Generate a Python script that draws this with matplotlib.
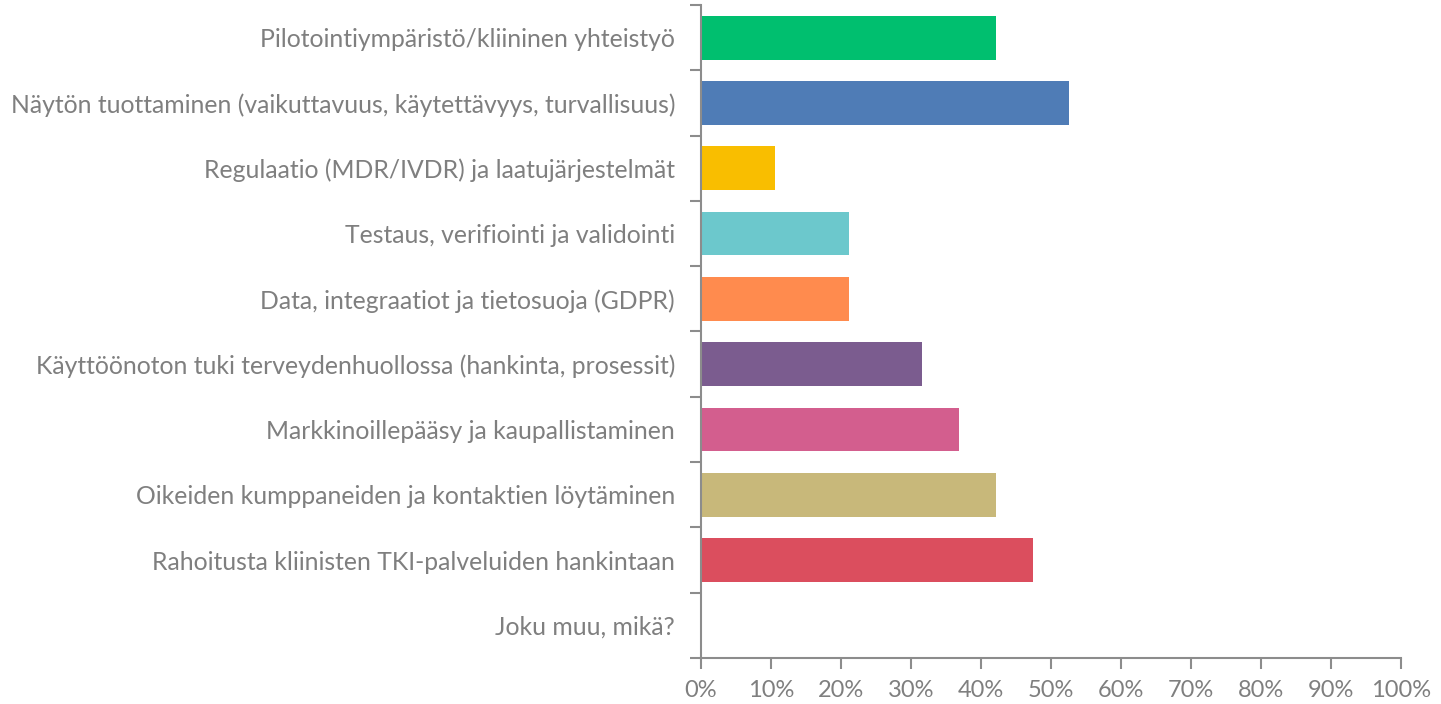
import matplotlib
matplotlib.use("Agg")
import matplotlib.pyplot as plt
import numpy as np
from matplotlib.ticker import FixedLocator, PercentFormatter

categories = [
    "Pilotointiympäristö/kliininen yhteistyö",
    "Näytön tuottaminen (vaikuttavuus, käytettävyys, turvallisuus)",
    "Regulaatio (MDR/IVDR) ja laatujärjestelmät",
    "Testaus, verifiointi ja validointi",
    "Data, integraatiot ja tietosuoja (GDPR)",
    "Käyttöönoton tuki terveydenhuollossa (hankinta, prosessit)",
    "Markkinoillepääsy ja kaupallistaminen",
    "Oikeiden kumppaneiden ja kontaktien löytäminen",
    "Rahoitusta kliinisten TKI-palveluiden hankintaan",
    "Joku muu, mikä?",
]
values = [42.1, 52.6, 10.5, 21.1, 21.1, 31.6, 36.8, 42.1, 47.4, 0.0]
colors = ["#00BF6F", "#4F7CB6", "#F9BE00", "#6CC8CC", "#FF8B4E",
          "#7B5C8F", "#D35E8E", "#C8B87A", "#DB4E5E", "#A0A0A0"]
xticks = [0, 10, 20, 30, 40, 50, 60, 70, 80, 90, 100]

plt.rcParams['font.family'] = ['Lato', 'DejaVu Sans']
grey = "#7F7F7F"
axis_grey = "#8C8C8C"

fig = plt.figure(figsize=(14.41, 7.04), dpi=100)
ax = fig.add_axes([701/1441, 1-658/704, 700/1441, 653/704])

n = len(categories)
y = np.arange(n)
ax.barh(y, values, height=0.67, color=colors)
ax.set_ylim(n-0.5, -0.5)
ax.set_xlim(0, 100)

ax.set_yticks(y)
ax.set_yticklabels(categories, fontsize=17.8, color=grey)
ax.yaxis.set_minor_locator(FixedLocator(np.arange(-0.5, n, 1.0)))
ax.tick_params(axis='y', which='major', length=0, pad=18.7)
ax.tick_params(axis='y', which='minor', length=8, width=1.5, color=axis_grey, direction='out')

ax.set_xticks(xticks)
ax.xaxis.set_major_formatter(PercentFormatter(decimals=0))
ax.tick_params(axis='x', which='major', length=8, width=1.5, color=axis_grey, labelsize=17,
               labelcolor=grey, pad=8)

for s in ['top', 'right']:
    ax.spines[s].set_visible(False)
for s in ['left', 'bottom']:
    ax.spines[s].set_color(axis_grey)
    ax.spines[s].set_linewidth(1.5)

fig.savefig("out.png", dpi=100, facecolor="white")
